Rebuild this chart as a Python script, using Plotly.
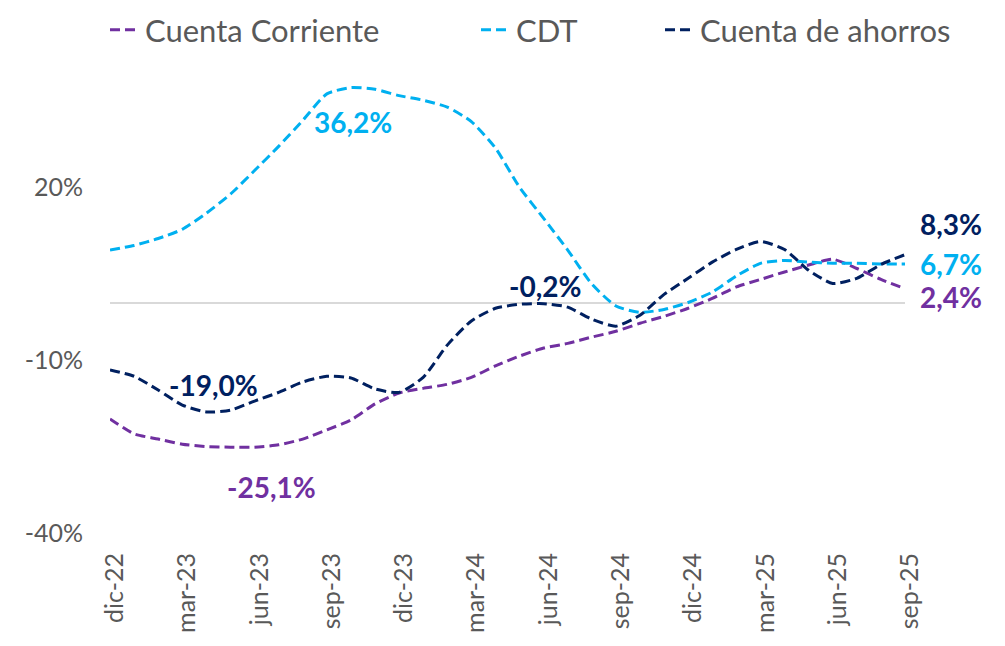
import plotly.graph_objects as go

months = ["dic-22","ene-23","feb-23","mar-23","abr-23","may-23","jun-23","jul-23","ago-23","sep-23",
          "oct-23","nov-23","dic-23","ene-24","feb-24","mar-24","abr-24","may-24","jun-24","jul-24",
          "ago-24","sep-24","oct-24","nov-24","dic-24","ene-25","feb-25","mar-25","abr-25","may-25",
          "jun-25","jul-25","ago-25","sep-25"]

cuenta_corriente = [-20.2, -22.8, -23.7, -24.6, -25.0, -25.1, -25.1, -24.7, -23.7, -22.1,
                    -20.4, -17.6, -15.7, -14.9, -14.2, -13.0, -11.0, -9.3, -7.9, -7.1,
                    -6.0, -5.0, -3.6, -2.4, -1.0, 0.7, 2.7, 4.0, 5.3, 6.5,
                    7.5, 5.9, 4.0, 2.4]

cdt = [9.1, 9.9, 11.1, 12.7, 15.5, 18.8, 22.9, 27.1, 31.6, 36.2,
       37.3, 37.0, 35.9, 35.1, 33.9, 31.4, 26.8, 20.0, 14.6, 9.1,
       3.2, -0.6, -1.7, -1.2, 0.0, 1.8, 4.6, 6.8, 7.3, 7.0,
       6.8, 6.8, 6.7, 6.7]

cuenta_ahorros = [-11.7, -12.8, -15.2, -17.8, -19.0, -18.7, -17.1, -15.6, -13.8, -12.8,
                  -13.1, -15.0, -15.6, -13.0, -7.4, -3.2, -1.0, -0.3, -0.2, -0.8,
                  -2.9, -4.1, -2.2, 1.4, 4.2, 7.0, 9.2, 10.6, 9.2, 5.6,
                  3.3, 4.2, 6.6, 8.3]

tick_labels = ["dic-22","mar-23","jun-23","sep-23","dic-23","mar-24","jun-24","sep-24",
               "dic-24","mar-25","jun-25","sep-25"]
y_ticks = [-40, -10, 20]

PURPLE = "#7030A0"
LBLUE = "#00B0F0"
NAVY = "#002060"
FONT = "Lato"
GREY = "#595959"

x_idx = list(range(len(months)))

fig = go.Figure()
series = [("Cuenta Corriente", cuenta_corriente, PURPLE, "legend", 97),
          ("CDT", cdt, LBLUE, "legend2", 468),
          ("Cuenta de ahorros", cuenta_ahorros, NAVY, "legend3", 652)]
legend_layout = {}
for name, vals, col, lg, lx in series:
    fig.add_trace(go.Scatter(
        x=x_idx, y=vals, name=name, mode="lines", legend=lg,
        line=dict(color=col, width=3, dash="10px,5px", shape="spline", smoothing=0.6),
        hoverinfo="skip"))
    legend_layout[lg] = dict(orientation="h", x=lx / 1005, y=1 - 22 / 646,
                             xref="container", yref="container",
                             xanchor="left", yanchor="middle",
                             font=dict(family=FONT, size=31, color=GREY),
                             bgcolor="rgba(0,0,0,0)")

def label(i, vals, text, col, xshift, yshift, xanchor="center"):
    fig.add_annotation(x=x_idx[i], y=vals[i], text=f"<b>{text}</b>", showarrow=False,
                       xanchor=xanchor, yanchor="middle", xshift=xshift, yshift=yshift,
                       font=dict(family=FONT, size=28, color=col))

last = len(months) - 1
label(9, cdt, "36,2%", LBLUE, 26, -28)
label(4, cuenta_ahorros, "-19,0%", NAVY, 7, 27)
label(6, cuenta_corriente, "-25,1%", PURPLE, 17, -40)
label(18, cuenta_ahorros, "-0,2%", NAVY, 1, 18)
label(last, cuenta_ahorros, "8,3%", NAVY, 13, 31, "left")
label(last, cdt, "6,7%", LBLUE, 13, 0, "left")
label(last, cuenta_corriente, "2,4%", PURPLE, 13, -8, "left")

tick_vals = [months.index(t) for t in tick_labels]

fig.update_layout(
    width=1005, height=646,
    margin=dict(l=102, r=108, t=64, b=121, autoexpand=False),
    paper_bgcolor="white", plot_bgcolor="white",
    font=dict(family=FONT, color=GREY),
    showlegend=True,
    xaxis=dict(range=[0, last], tickmode="array", tickvals=tick_vals, ticktext=tick_labels,
               tickangle=-90, showgrid=False, zeroline=False, showline=False,
               ticks="", tickfont=dict(family=FONT, size=25, color=GREY),
               ticklabelstandoff=14, ticklabelshift=5, automargin=False),
    yaxis=dict(range=[-40, 40], tickmode="array", tickvals=y_ticks,
               ticktext=[f"{v}%" for v in y_ticks], showgrid=False,
               zeroline=True, zerolinecolor="#D9D9D9", zerolinewidth=2,
               showline=False, ticks="",
               tickfont=dict(family=FONT, size=25, color=GREY),
               ticklabelstandoff=26, automargin=False),
    **legend_layout,
)

fig.write_html("out.html")
